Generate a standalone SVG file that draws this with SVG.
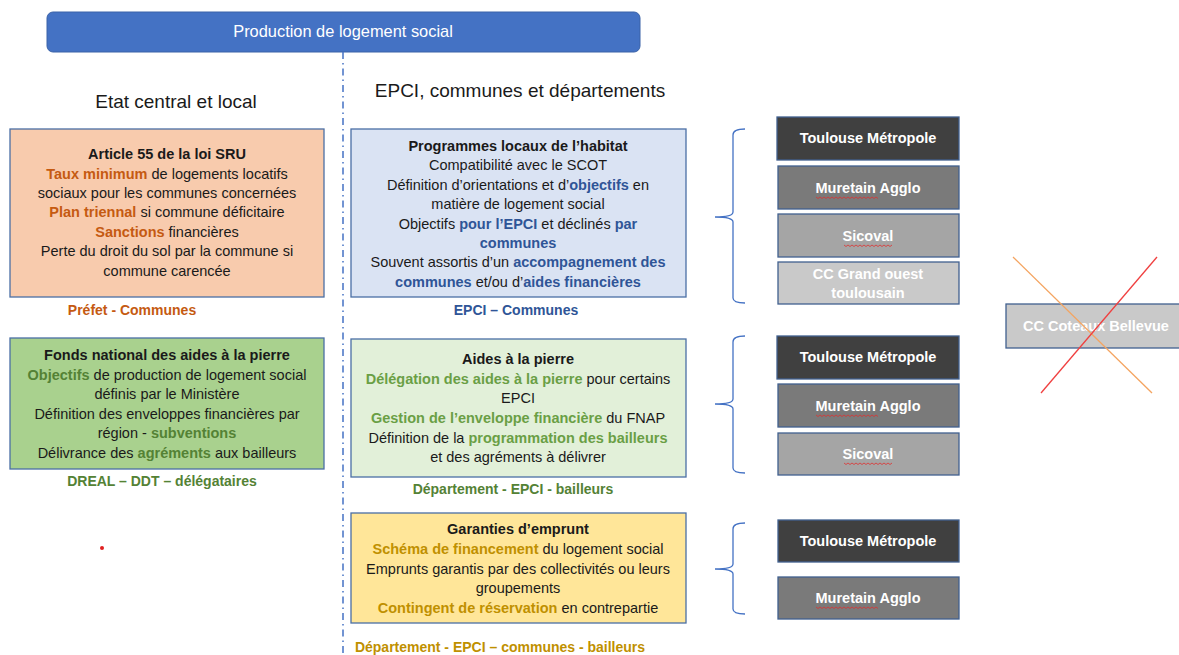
<svg xmlns="http://www.w3.org/2000/svg" width="1179" height="655" viewBox="0 0 1179 655">
<style>
text{font-family:"Liberation Sans",Arial,sans-serif;}
.t{font-size:14.5px;fill:#1a1a1a;text-anchor:middle;}
.h{font-weight:bold;}
.or{fill:#C55A11;font-weight:bold;}
.gr{fill:#548235;font-weight:bold;}
.lg{fill:#6A9F45;font-weight:bold;}
.bl{fill:#2F5597;font-weight:bold;}
.ye{fill:#BF9000;font-weight:bold;}
.lab{font-size:14px;text-anchor:middle;}
.box{stroke:#4A6FA5;stroke-width:1.3;}
.gbox{stroke:#41608F;stroke-width:1.3;}
.gt{font-size:14.5px;font-weight:bold;fill:#ffffff;text-anchor:middle;}
.brace{fill:none;stroke:#4472C4;stroke-width:1.3;}
.squig{fill:none;stroke:#E03030;stroke-width:0.8;}
</style>
<defs>
<path id="sq-mur" class="squig" d="M0,0 l2,1.5 2,-1.5 2,1.5 2,-1.5 2,1.5 2,-1.5 2,1.5 2,-1.5 2,1.5 2,-1.5 2,1.5 2,-1.5 2,1.5 2,-1.5 2,1.5 2,-1.5 2,1.5 2,-1.5 2,1.5 2,-1.5 2,1.5 2,-1.5 2,1.5 2,-1.5 2,1.5 2,-1.5 2,1.5 2,-1.5 2,1.5 2,-1.5 2,1.5"/>
<path id="sq-sic" class="squig" d="M0,0 l2,1.5 2,-1.5 2,1.5 2,-1.5 2,1.5 2,-1.5 2,1.5 2,-1.5 2,1.5 2,-1.5 2,1.5 2,-1.5 2,1.5 2,-1.5 2,1.5 2,-1.5 2,1.5 2,-1.5 2,1.5 2,-1.5 2,1.5 2,-1.5 2,1.5 2,-1.5"/>
</defs>

<g id="title">
<rect x="47" y="12" width="593" height="40" rx="6" fill="#4472C4" stroke="#3A62A8" stroke-width="1"/>
<text x="343" y="37" style="font-size:16.4px;fill:#ffffff;text-anchor:middle;">Production de logement social</text>
</g>

<g id="connectors">
<line x1="343" y1="52" x2="343" y2="655" stroke="#4472C4" stroke-width="1.5" stroke-dasharray="7,4,1.5,4"/>
</g>

<g id="heading-left"><text x="176" y="108" style="font-size:19px;fill:#1a1a1a;text-anchor:middle;">Etat central et local</text></g>
<g id="heading-right"><text x="520" y="97" style="font-size:19px;fill:#1a1a1a;text-anchor:middle;">EPCI,  communes et départements</text></g>

<g id="sru">
<rect class="box" x="10" y="129" width="314" height="168" fill="#F8CBAD"/>
<text class="t h" x="167" y="159">Article 55 de la loi SRU</text>
<text class="t" x="167" y="179"><tspan class="or">Taux minimum</tspan> de logements locatifs</text>
<text class="t" x="167" y="198">sociaux pour les communes concernées</text>
<text class="t" x="167" y="217"><tspan class="or">Plan triennal</tspan> si commune déficitaire</text>
<text class="t" x="167" y="237"><tspan class="or">Sanctions</tspan> financières</text>
<text class="t" x="167" y="256">Perte du droit du sol par la commune si</text>
<text class="t" x="167" y="276">commune carencée</text>
<text x="132" y="315" class="lab or">Préfet - Communes</text>
</g>

<g id="fnap">
<rect class="box" x="10" y="338" width="314" height="131" fill="#A9D18E"/>
<text class="t h" x="167" y="360">Fonds national des aides à la pierre</text>
<text class="t" x="167" y="380"><tspan class="gr">Objectifs</tspan> de production de logement social</text>
<text class="t" x="167" y="399">définis par le Ministère</text>
<text class="t" x="167" y="419">Définition des enveloppes financières par</text>
<text class="t" x="167" y="438">région - <tspan class="gr">subventions</tspan></text>
<text class="t" x="167" y="458">Délivrance des <tspan class="gr">agréments</tspan> aux bailleurs</text>
<text x="162" y="486" class="lab gr">DREAL – DDT – délégataires</text>
</g>

<g id="red-dot"><circle cx="102" cy="548" r="2" fill="#E02020"/></g>

<g id="plh">
<rect class="box" x="351" y="129" width="335" height="168" fill="#DAE3F3"/>
<text class="t h" x="518" y="151">Programmes locaux de l’habitat</text>
<text class="t" x="518" y="170">Compatibilité avec le SCOT</text>
<text class="t" x="518" y="190">Définition d’orientations et d’<tspan class="bl">objectifs</tspan> en</text>
<text class="t" x="518" y="209">matière de logement social</text>
<text class="t" x="518" y="229">Objectifs <tspan class="bl">pour l’EPCI</tspan> et déclinés <tspan class="bl">par</tspan></text>
<text class="t" x="518" y="248"><tspan class="bl">communes</tspan></text>
<text class="t" x="518" y="267">Souvent assortis d’un <tspan class="bl">accompagnement des</tspan></text>
<text class="t" x="518" y="287"><tspan class="bl">communes</tspan> et/ou d’<tspan class="bl">aides financières</tspan></text>
<text x="516" y="315" class="lab bl">EPCI – Communes</text>
</g>

<g id="aides">
<rect class="box" x="351" y="339" width="335" height="138" fill="#E2F0D9"/>
<text class="t h" x="518" y="364">Aides à la pierre</text>
<text class="t" x="518" y="384"><tspan class="lg">Délégation des aides à la pierre</tspan> pour certains</text>
<text class="t" x="518" y="403">EPCI</text>
<text class="t" x="518" y="423"><tspan class="lg">Gestion de l’enveloppe financière</tspan> du FNAP</text>
<text class="t" x="518" y="443">Définition de la <tspan class="lg">programmation des bailleurs</tspan></text>
<text class="t" x="518" y="462">et des agréments à délivrer</text>
<text x="513" y="494" class="lab gr">Département - EPCI - bailleurs</text>
</g>

<g id="garanties">
<rect class="box" x="351" y="513" width="335" height="110" fill="#FFE699"/>
<text class="t h" x="518" y="534">Garanties d’emprunt</text>
<text class="t" x="518" y="554"><tspan class="ye">Schéma de financement</tspan> du logement social</text>
<text class="t" x="518" y="574">Emprunts garantis par des collectivités ou leurs</text>
<text class="t" x="518" y="593">groupements</text>
<text class="t" x="518" y="613"><tspan class="ye">Contingent de réservation</tspan> en contrepartie</text>
<text x="500" y="652" class="lab ye">Département - EPCI – communes - bailleurs</text>
</g>

<g id="brace-1"><path class="brace" d="M745,129 Q733,129 733,135 L733,212 Q733,217 715,217 Q733,217 733,222 L733,298 Q733,303 745,303"/></g>
<g id="brace-2"><path class="brace" d="M745,336 Q733,336 733,342 L733,399 Q733,404 715,404 Q733,404 733,409 L733,468 Q733,473 745,473"/></g>
<g id="brace-3"><path class="brace" d="M745,523 Q733,523 733,529 L733,564 Q733,569 715,569 Q733,569 733,574 L733,609 Q733,614 745,614"/></g>

<g id="g1-toulouse"><rect class="gbox" x="777" y="117" width="182" height="43" fill="#404040"/><text class="gt" x="868" y="143">Toulouse Métropole</text></g>
<g id="g1-muretain"><rect class="gbox" x="778" y="166" width="181" height="43" fill="#7A7A7A"/><text class="gt" x="868" y="193">Muretain Agglo</text><use href="#sq-mur" x="816" y="197"/></g>
<g id="g1-sicoval"><rect class="gbox" x="778" y="214" width="181" height="43" fill="#A5A5A5"/><text class="gt" x="868" y="241">Sicoval</text><use href="#sq-sic" x="844" y="245"/></g>
<g id="g1-ccgo"><rect class="gbox" x="778" y="262" width="181" height="42" fill="#C9C9C9"/><text class="gt" x="868" y="279">CC Grand ouest</text><text class="gt" x="868" y="298">toulousain</text></g>

<g id="g2-toulouse"><rect class="gbox" x="777" y="336" width="182" height="43" fill="#404040"/><text class="gt" x="868" y="362">Toulouse Métropole</text></g>
<g id="g2-muretain"><rect class="gbox" x="778" y="384" width="181" height="43" fill="#7A7A7A"/><text class="gt" x="868" y="411">Muretain Agglo</text><use href="#sq-mur" x="816" y="415"/></g>
<g id="g2-sicoval"><rect class="gbox" x="778" y="433" width="181" height="42" fill="#A5A5A5"/><text class="gt" x="868" y="459">Sicoval</text><use href="#sq-sic" x="844" y="463"/></g>

<g id="g3-toulouse"><rect class="gbox" x="778" y="520" width="181" height="42" fill="#404040"/><text class="gt" x="868" y="546">Toulouse Métropole</text></g>
<g id="g3-muretain"><rect class="gbox" x="778" y="577" width="181" height="42" fill="#7A7A7A"/><text class="gt" x="868" y="603">Muretain Agglo</text><use href="#sq-mur" x="816" y="607"/></g>

<g id="cc-coteaux">
<rect class="gbox" x="1006" y="304" width="180" height="44" fill="#C9C9C9"/>
<text class="gt" x="1096" y="331">CC Coteaux Bellevue</text>
<line x1="1013" y1="257" x2="1152" y2="393" stroke="#F4A460" stroke-width="1.3"/>
<line x1="1157" y1="257" x2="1041" y2="393" stroke="#F04040" stroke-width="1.3"/>
</g>
</svg>
